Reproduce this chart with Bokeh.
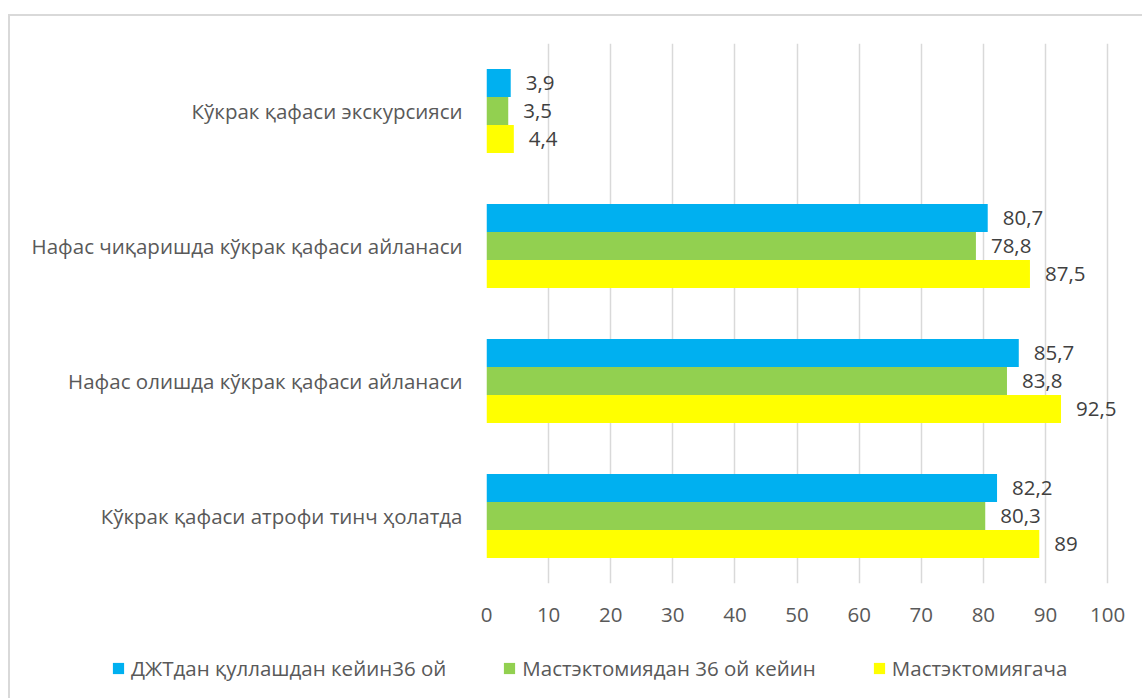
from bokeh.plotting import figure
from bokeh.layouts import column
from bokeh.models import FactorRange, FixedTicker, Legend, LegendItem, ColumnDataSource, Range1d
from bokeh.transform import dodge
from bokeh.core.properties import value
from bokeh.embed import file_html
from bokeh.resources import INLINE

categories = [
    "Кўкрак қафаси атрофи тинч ҳолатда",
    "Нафас олишда кўкрак қафаси айланаси",
    "Нафас чиқаришда кўкрак қафаси айланаси",
    "Кўкрак қафаси экскурсияси",
]
series_names = [
    "ДЖТдан қуллашдан кейин36 ой",
    "Мастэктомиядан 36 ой кейин",
    "Мастэктомиягача",
]
djt_after = [82.2, 85.7, 80.7, 3.9]
mast_after = [80.3, 83.8, 78.8, 3.5]
mast_before = [89, 92.5, 87.5, 4.4]
x_ticks = [0, 10, 20, 30, 40, 50, 60, 70, 80, 90, 100]

colors = ["#00B0F0", "#92D050", "#FFFF00"]
offsets = [0.207, 0.0, -0.207]
FONT = "Open Sans"
FS = "20.5px"


def fmt(v):
    s = ("%g" % v)
    return s.replace(".", ",")


series_values = [djt_after, mast_after, mast_before]

p = figure(
    width=1132, height=617,
    y_range=FactorRange(factors=categories),
    x_range=Range1d(0, 102.4),
    output_backend="svg", toolbar_location=None,
    min_border_left=476, min_border_right=20, min_border_top=27, min_border_bottom=50,
)
p.frame_align = False
p.outline_line_color = None
p.background_fill_color = "white"
p.border_fill_color = "white"

for name, vals, col, off in zip(series_names, series_values, colors, offsets):
    src = ColumnDataSource(dict(cat=categories, val=vals, lab=[fmt(v) for v in vals]))
    p.hbar(y=dodge("cat", off, range=p.y_range), right="val", left=0, height=0.207,
           source=src, fill_color=col, line_color=None)
    p.text(x="val", y=dodge("cat", off, range=p.y_range), text="lab", source=src,
           x_offset=15, text_align="left", text_baseline="middle",
           text_font=value(FONT), text_font_size=FS, text_color="#404040")

p.xgrid.grid_line_color = "#d9d9d9"
p.xgrid.grid_line_width = 1.5
p.ygrid.grid_line_color = None
p.xaxis.ticker = FixedTicker(ticks=x_ticks)
for ax in (p.xaxis, p.yaxis):
    ax.axis_line_color = None
    ax.major_tick_line_color = None
    ax.minor_tick_line_color = None
    ax.major_label_text_font = FONT
    ax.major_label_text_font_size = FS
    ax.major_label_text_color = "#595959"
p.xaxis.major_label_standoff = 18
p.yaxis.major_label_standoff = 18

# legend strip
lf = figure(width=1132, height=65, output_backend="svg", toolbar_location=None,
            x_axis_location=None, y_axis_location=None,
            x_range=Range1d(0, 1000), y_range=Range1d(0, 1000),
            min_border_left=0, min_border_right=0, min_border_top=0, min_border_bottom=0)
lf.frame_align = False
lf.outline_line_color = None
lf.grid.grid_line_color = None
lf.border_fill_color = "white"
items = []
for name, vals, col in zip(series_names, series_values, colors):
    r = lf.hbar(y=list(range(len(vals))), right=vals, left=0, height=0.5,
                fill_color=col, line_color=None, visible=False)
    items.append(LegendItem(label=name, renderers=[r]))
legend = Legend(items=items, orientation="horizontal", location=(101, 16),
                border_line_color=None, background_fill_alpha=0,
                inactive_fill_alpha=0,
                glyph_width=14, glyph_height=14, label_standoff=6, spacing=56,
                padding=0, margin=0, click_policy="none",
                label_text_font=FONT, label_text_font_size=FS, label_text_color="#595959")
lf.add_layout(legend, "center")

layout = column(p, lf, spacing=0)
layout.styles = {"border-left": "2px solid #d9d9d9", "border-top": "2px solid #d9d9d9",
                 "margin-top": "14px", "margin-left": "8px"}

open("out.html", "w").write(file_html(layout, INLINE))
